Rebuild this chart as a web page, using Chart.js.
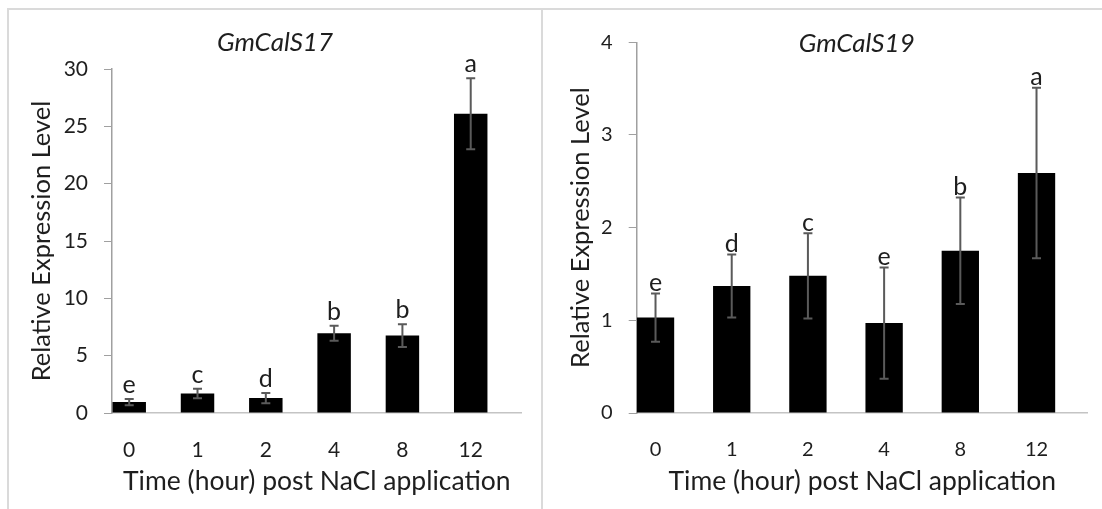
<!DOCTYPE html>
<html>
<head>
<meta charset="utf-8">
<script src="https://cdn.jsdelivr.net/npm/chart.js@4"></script>
<style>
  body { margin: 0; background: #fff; width: 1102px; height: 509px; overflow: hidden; position: relative; }
  canvas { position: absolute; top: 0; }
  #c17 { left: 0; }
  #c19 { left: 542px; }
  .frame { position: absolute; background: #dadada; }
</style>
</head>
<body>
<canvas id="c17" width="542" height="509" style="width:542px;height:509px"></canvas>
<canvas id="c19" width="560" height="509" style="width:560px;height:509px"></canvas>
<div class="frame" style="left:7px;top:8px;width:1095px;height:2px"></div>
<div class="frame" style="left:7px;top:8px;width:2px;height:501px"></div>
<div class="frame" style="left:541px;top:8px;width:2px;height:501px"></div>
<script>
// hours after NaCl
const hours = ['0', '1', '2', '4', '8', '12'];

// GmCalS17
const cals17Mean = [0.95, 1.7, 1.3, 6.95, 6.75, 26.1];
const cals17Err = [0.28, 0.42, 0.45, 0.65, 1.0, 3.1];
const cals17Letters = ['e', 'c', 'd', 'b', 'b', 'a'];

// GmCalS19
const cals19Mean = [1.03, 1.37, 1.48, 0.97, 1.75, 2.59];
const cals19Err = [0.26, 0.34, 0.46, 0.60, 0.575, 0.92];
const cals19Letters = ['e', 'd', 'c', 'e', 'b', 'a'];

const FONT = 'Lato';
const TXT = '#1e1e1e';

// error bars + significance letters on top of each bar
const errorBars = {
    id: 'errorBars',
    afterDatasetsDraw(chart, args, opts) {
        const ctx = chart.ctx;
        const y = chart.scales.y;
        const bars = chart.getDatasetMeta(0).data;
        ctx.save();
        bars.forEach((bar, i) => {
            const v = opts.mean[i], e = opts.err[i];
            const top = y.getPixelForValue(v + e);
            const bot = y.getPixelForValue(v - e);
            ctx.strokeStyle = '#5a5a5a';
            ctx.lineWidth = 2;
            ctx.beginPath();
            ctx.moveTo(bar.x, top); ctx.lineTo(bar.x, bot);
            ctx.moveTo(bar.x - 4.5, top); ctx.lineTo(bar.x + 4.5, top);
            ctx.moveTo(bar.x - 4.5, bot); ctx.lineTo(bar.x + 4.5, bot);
            ctx.stroke();
            ctx.fillStyle = TXT;
            ctx.font = opts.letterSize + 'px ' + FONT;
            ctx.textAlign = 'center';
            ctx.textBaseline = 'alphabetic';
            ctx.fillText(opts.letters[i], bar.x, top - opts.gap);
        });
        ctx.restore();
    }
};

const panelTitle = {
    id: 'panelTitle',
    afterDraw(chart, args, opts) {
        const ctx = chart.ctx;
        ctx.save();
        ctx.fillStyle = TXT;
        ctx.font = 'italic ' + opts.size + 'px ' + FONT;
        ctx.textAlign = 'center';
        ctx.textBaseline = 'middle';
        ctx.fillText(opts.text, opts.x, opts.y);
        ctx.restore();
    }
};

function makeChart(id, mean, err, letters, yMax, yStep, title, box) {
    const ctx = document.getElementById(id).getContext('2d');
    return new Chart(ctx, {
        type: 'bar',
        data: {
            datasets: [{
                data: mean.map((v, i) => ({ x: i, y: v })),
                backgroundColor: '#000',
                borderWidth: 0,
                barPercentage: 0.49,
                categoryPercentage: 1
            }]
        },
        options: {
            responsive: false,
            animation: false,
            layout: { padding: { top: box.top, right: box.right, left: 0, bottom: 0 } },
            plugins: {
                legend: { display: false },
                tooltip: { enabled: false },
                errorBars: { mean: mean, err: err, letters: letters, gap: box.gap, letterSize: box.letterSize },
                panelTitle: { text: title, x: box.titleX, y: box.titleY, size: box.titleSize }
            },
            scales: {
                x: {
                    type: 'linear',
                    offset: false,
                    min: box.xMin,
                    max: box.xMax,
                    afterBuildTicks: s => { s.ticks = hours.map((h, i) => ({ value: i })); },
                    afterFit: s => { s.height = box.xHeight; },
                    grid: { display: false },
                    border: { color: '#c4c4c4', width: 1.5 },
                    ticks: {
                        callback: v => hours[v],
                        color: TXT,
                        padding: 17,
                        font: { family: FONT, size: box.tickSize }
                    },
                    title: {
                        display: true,
                        text: 'Time (hour) post NaCl application',
                        color: TXT,
                        padding: { top: 0, bottom: 12 },
                        font: { family: FONT, size: 26.5 }
                    }
                },
                y: {
                    min: 0,
                    max: yMax,
                    afterFit: s => { s.width = box.yWidth; },
                    grid: { drawOnChartArea: false, tickLength: 8, color: '#a0a0a0' },
                    border: { color: '#a0a0a0', width: 1.5 },
                    ticks: {
                        stepSize: yStep,
                        color: TXT,
                        padding: 16,
                        font: { family: FONT, size: box.tickSize }
                    },
                    title: {
                        display: true,
                        text: 'Relative Expression Level',
                        color: TXT,
                        padding: { top: box.yTitlePad, bottom: 0 },
                        font: { family: FONT, size: 25.5 }
                    }
                }
            }
        },
        plugins: [errorBars, panelTitle]
    });
}

makeChart('c17', cals17Mean, cals17Err, cals17Letters, 30, 5, 'GmCalS17', {
    top: 69, right: 20.4, yWidth: 112, xHeight: 96, xMin: -0.252, xMax: 5.745,
    titleX: 275, titleY: 43, titleSize: 26, tickSize: 21, letterSize: 25, gap: 6, yTitlePad: 26
});

makeChart('c19', cals19Mean, cals19Err, cals19Letters, 4, 1, 'GmCalS19', {
    top: 42.3, right: 14.2, yWidth: 94.7, xHeight: 96, xMin: -0.247, xMax: 5.673,
    titleX: 314.7, titleY: 43.3, titleSize: 26, tickSize: 20, letterSize: 25, gap: 2.5, yTitlePad: 23
});
</script>
</body>
</html>
